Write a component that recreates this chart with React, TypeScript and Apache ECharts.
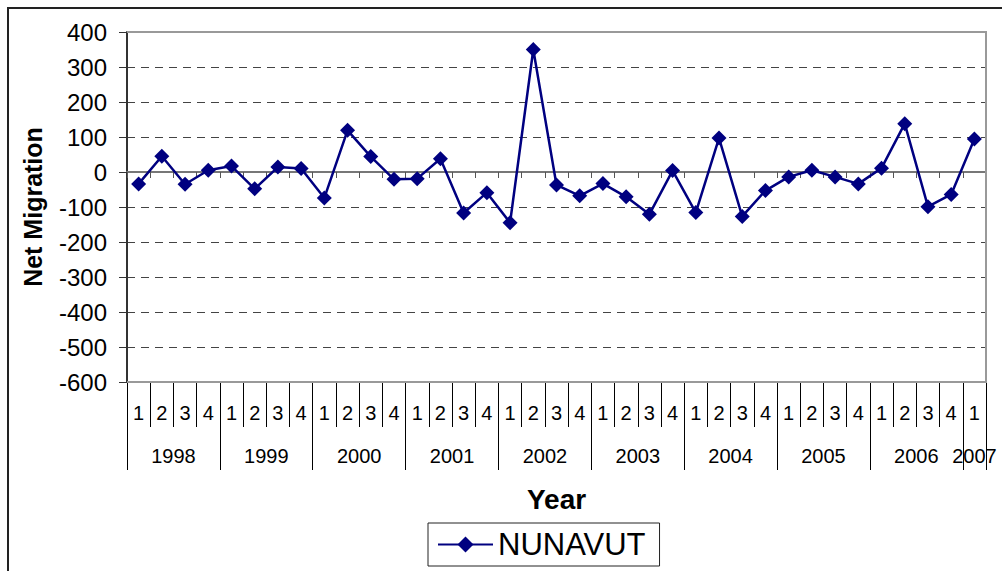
import React, { useEffect, useRef } from "react";
import * as echarts from "echarts";

const years = ["1998", "1999", "2000", "2001", "2002", "2003", "2004", "2005", "2006", "2007"];
const quartersPerYear = [4, 4, 4, 4, 4, 4, 4, 4, 4, 1];
const quarterNames = ["1", "2", "3", "4"];
const seriesName = "NUNAVUT";
const netMigration = [
  -34, 45, -35, 5,
  17, -48, 14, 10,
  -74, 119, 44, -21,
  -19, 38, -117, -59,
  -145, 350, -37, -68,
  -33, -71, -121, 4,
  -116, 97, -127, -53,
  -14, 5, -14, -34,
  11, 138, -99, -64,
  94,
];
const yTicks = { min: -600, max: 400, interval: 100 };

const categories: string[] = [];
years.forEach((y, i) => {
  for (let q = 0; q < quartersPerYear[i]; q++) categories.push(quarterNames[q]);
});
// half-quarter slots for the year level (boundaries and year centres)
const yearSlots: string[] = new Array(categories.length * 2 + 1).fill("");
const yearBoundarySlots: number[] = [];
{
  let start = 0;
  years.forEach((y, i) => {
    const n = quartersPerYear[i];
    yearSlots[start * 2 + n] = y;
    yearBoundarySlots.push(start * 2);
    start += n;
  });
  yearBoundarySlots.push(start * 2);
}

const W = 1002;
const H = 571;
const G = { left: 127, top: 32, right: 986, bottom: 382 };
const FONT = "'Liberation Sans', Arial, sans-serif";

export default function App() {
  const ref = useRef<HTMLDivElement>(null);
  useEffect(() => {
    if (!ref.current) return;
    const chart = echarts.init(ref.current, undefined, { renderer: "svg" });
    chart.setOption({
      animation: false,
      backgroundColor: "#fff",
      textStyle: { fontFamily: FONT, color: "#000" },
      grid: {
        left: G.left,
        top: G.top,
        right: W - G.right,
        bottom: H - G.bottom,
        containLabel: false,
      },
      legend: {
        data: [seriesName],
        left: 428,
        top: 523,
        padding: [6, 14, 6, 9],
        borderColor: "#222",
        borderWidth: 1,
        borderRadius: 0,
        itemWidth: 55,
        itemHeight: 20,
        textStyle: { fontSize: 31, color: "#000", fontFamily: FONT },
      },
      xAxis: [
        {
          type: "category",
          data: categories,
          position: "bottom",
          boundaryGap: true,
          axisLine: { onZero: true, lineStyle: { color: "#777", width: 2 } },
          axisTick: { show: true, length: 6, interval: 0, lineStyle: { color: "#555", width: 1 } },
          axisLabel: { show: false },
          splitLine: { show: false },
        },
        {
          type: "category",
          data: categories,
          position: "bottom",
          boundaryGap: true,
          axisLine: { show: false, onZero: false },
          axisTick: { show: true, length: 45, interval: 0, lineStyle: { color: "#000", width: 1 } },
          axisLabel: { show: true, interval: 0, fontSize: 20, color: "#000", margin: 21, fontFamily: FONT },
          splitLine: { show: false },
        },
        {
          type: "category",
          data: yearSlots,
          position: "bottom",
          boundaryGap: false,
          axisLine: { show: false, onZero: false },
          axisTick: {
            show: true,
            length: 88,
            interval: (idx: number) => yearBoundarySlots.indexOf(idx) >= 0,
            lineStyle: { color: "#000", width: 1 },
          },
          axisLabel: { show: true, interval: 0, fontSize: 20, color: "#000", margin: 64, fontFamily: FONT },
          splitLine: { show: false },
          name: "Year",
          nameLocation: "middle",
          nameGap: 103,
          nameTextStyle: { fontSize: 28, fontWeight: "bold", color: "#000", fontFamily: FONT },
        },
      ],
      yAxis: {
        type: "value",
        min: yTicks.min,
        max: yTicks.max,
        interval: yTicks.interval,
        axisLine: { show: true, lineStyle: { color: "#333", width: 2 } },
        axisTick: { show: true, length: 8, lineStyle: { color: "#333", width: 1 } },
        axisLabel: { fontSize: 24, color: "#000", margin: 20, fontFamily: FONT },
        splitLine: { show: true, lineStyle: { color: "#444", width: 1, type: [8, 6] } },
        name: "Net Migration",
        nameLocation: "middle",
        nameRotate: 90,
        nameGap: 82,
        nameTextStyle: { fontSize: 25, fontWeight: "bold", color: "#000", fontFamily: FONT },
      },
      graphic: [
        {
          type: "rect",
          shape: { x: 8, y: 8, width: 1200, height: 800 },
          style: { fill: "none", stroke: "#222", lineWidth: 2 },
          z: 100,
          silent: true,
        },
        {
          type: "polyline",
          shape: {
            points: [
              [G.left, G.top],
              [G.right, G.top],
              [G.right, G.bottom],
              [G.left, G.bottom],
            ],
          },
          style: { fill: "none", stroke: "#999", lineWidth: 2 },
          z: 50,
          silent: true,
        },
      ],
      series: [
        {
          name: seriesName,
          type: "line",
          xAxisIndex: 0,
          data: netMigration,
          symbol: "diamond",
          symbolSize: 15,
          lineStyle: { color: "#000080", width: 2.5 },
          itemStyle: { color: "#000080" },
          z: 10,
        },
      ],
    });
    return () => chart.dispose();
  }, []);
  return (
    <div
      ref={ref}
      style={{ position: "absolute", left: 0, top: 0, width: W, height: H }}
    />
  );
}
